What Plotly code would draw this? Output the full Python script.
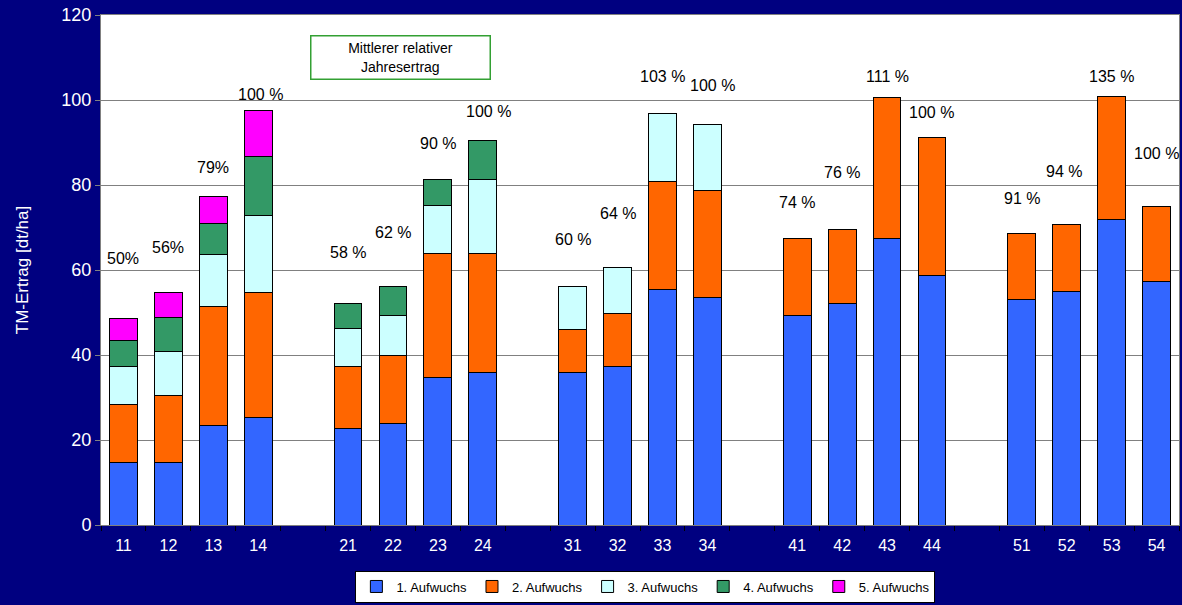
import plotly.graph_objects as go

# ---------------- data ----------------
groups = [["11", "12", "13", "14"], ["21", "22", "23", "24"], ["31", "32", "33", "34"],
          ["41", "42", "43", "44"], ["51", "52", "53", "54"]]
series_names = ["1. Aufwuchs", "2. Aufwuchs", "3. Aufwuchs", "4. Aufwuchs", "5. Aufwuchs"]

aufwuchs1 = [14.8, 14.8, 23.3, 25.4, 22.6, 23.9, 34.8, 36.0, 35.8, 37.4, 55.4, 53.6,
             49.4, 52.2, 67.5, 58.7, 53.0, 55.0, 71.9, 57.2]
aufwuchs2 = [13.6, 15.7, 28.1, 29.2, 14.7, 16.1, 29.0, 27.8, 10.2, 12.4, 25.4, 25.0,
             18.1, 17.4, 33.1, 32.4, 15.5, 15.8, 28.9, 17.8]
aufwuchs3 = [8.8, 10.4, 12.2, 18.2, 8.9, 9.3, 11.3, 17.6, 10.1, 10.8, 16.0, 15.6,
             None, None, None, None, None, None, None, None]
aufwuchs4 = [6.3, 8.0, 7.3, 13.9, 6.0, 6.8, 6.3, 9.1, None, None, None, None,
             None, None, None, None, None, None, None, None]
aufwuchs5 = [5.1, 5.8, 6.4, 10.9, None, None, None, None, None, None, None, None,
             None, None, None, None, None, None, None, None]

rel_labels = ["50%", "56%", "79%", "100 %", "58 %", "62 %", "90 %", "100 %",
              "60 %", "64 %", "103 %", "100 %", "74 %", "76 %", "111 %", "100 %",
              "91 %", "94 %", "135 %", "100 %"]

# ---------------- layout helpers (label placement) ----------------
label_y = [62.8, 65.3, 84.1, 101.4, 64.1, 68.9, 89.8, 97.3, 67.1, 73.3, 105.5, 103.3,
           75.8, 83.0, 105.5, 97.0, 76.9, 83.1, 105.5, 87.5]
label_xshift = [0, 0, 0, 2, 0, 0, 0, 6, 0, 0, 0, 5, 0, 0, 0, 0, 0, -3, 0, 0]

colors = ["#3366FF", "#FF6600", "#CCFFFF", "#339966", "#FF00FF"]

# build category axis with empty slots between groups
cats = []
idx_map = []
for gi, g in enumerate(groups):
    for c in g:
        idx_map.append(len(cats))
        cats.append(c)
    if gi < len(groups) - 1:
        cats.append(" " * (gi + 1))


def spread(vals):
    out = [None] * len(cats)
    for i, v in zip(idx_map, vals):
        out[i] = v
    return out


all_series = [aufwuchs1, aufwuchs2, aufwuchs3, aufwuchs4, aufwuchs5]

fig = go.Figure()
for name, vals, col in zip(series_names, all_series, colors):
    fig.add_trace(go.Bar(
        x=cats, y=spread(vals), name=name,
        marker=dict(color=col, line=dict(color="#000000", width=1)),
    ))

FONT = "Arial, Liberation Sans, sans-serif"

annotations = []
for i, t, yy, xs in zip(idx_map, rel_labels, label_y, label_xshift):
    annotations.append(dict(x=i, y=yy, xref="x", yref="y", text=t, showarrow=False,
                            xshift=xs, font=dict(family=FONT, size=16, color="#000000")))

annotations.append(dict(
    x=0.2775, y=0.916, xref="paper", yref="paper", xanchor="center", yanchor="middle",
    text="Mittlerer relativer<br>Jahresertrag", showarrow=False,
    font=dict(family=FONT, size=14, color="#000000"),
    bordercolor="#33A033", borderwidth=1.5, bgcolor="#FFFFFF",
    width=176, height=40, align="center",
))

fig.update_layout(
    width=1182, height=605,
    barmode="stack", bargap=0.38,
    paper_bgcolor="#000080", plot_bgcolor="#FFFFFF",
    margin=dict(l=101, r=3, t=15, b=80),
    font=dict(family=FONT, color="#FFFFFF"),
    showlegend=True,
    legend=dict(
        orientation="h", x=0.505, xanchor="center", y=-0.152, yanchor="bottom",
        bgcolor="#FFFFFF", bordercolor="#000000", borderwidth=1,
        font=dict(family=FONT, size=13, color="#000000"),
        itemwidth=30, traceorder="normal",
    ),
    annotations=annotations,
    xaxis=dict(
        type="category", categoryorder="array", categoryarray=cats,
        range=[-0.5, len(cats) - 0.5],
        tickson="boundaries", ticks="outside", ticklen=5, tickcolor="#000000",
        showline=True, linecolor="#808080", mirror=True,
        tickfont=dict(family=FONT, size=16, color="#FFFFFF"),
        tickangle=0, ticklabelstandoff=6,
        showgrid=False, automargin=False,
    ),
    yaxis=dict(
        range=[0, 120], dtick=20, tick0=0,
        showgrid=True, gridcolor="#808080", gridwidth=1,
        ticks="outside", ticklen=5, tickcolor="#808080",
        showline=True, linecolor="#808080", mirror=True,
        tickfont=dict(family=FONT, size=18, color="#FFFFFF"),
        title=dict(text="TM-Ertrag [dt/ha]", font=dict(family=FONT, size=17, color="#FFFFFF"),
                   standoff=28),
        zeroline=False, automargin=False,
    ),
)

fig.write_html("out.html", config={"displayModeBar": False},
               post_script="document.body.style.margin='0';")
